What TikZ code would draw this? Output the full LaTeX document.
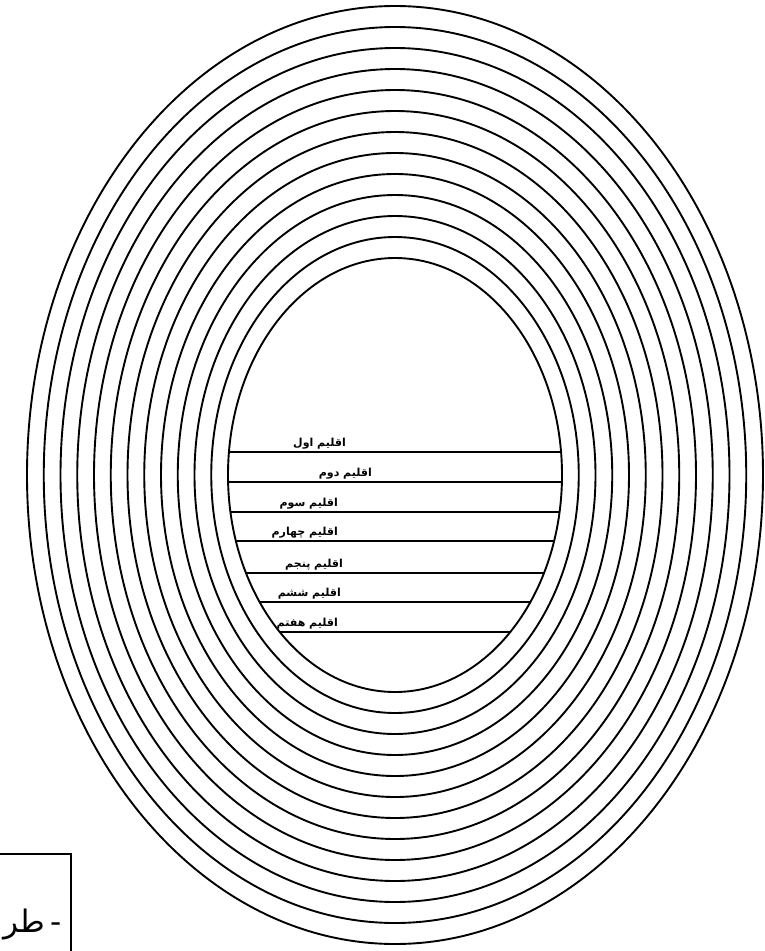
\documentclass[tikz,border=0pt]{standalone}
\usepackage{fontspec}
\newfontfamily\arabicfont[Script=Arabic]{DejaVu Sans}
\TeXXeTstate=1
\tikzset{
    ringline/.style={
        draw=black,
        line width=1.9pt
    },
    chordline/.style={
        draw=black,
        line width=2.1pt
    },
    climatelabel/.style={
        inner sep=0pt,
        anchor=south east,
        font=\arabicfont\bfseries\fontsize{11}{12}\selectfont
    },
    framebox/.style={
        draw=black,
        line width=1.8pt
    },
    framecaption/.style={
        inner sep=0pt,
        anchor=base east,
        font=\arabicfont\fontsize{31}{33}\selectfont
    }
}

\begin{document}
\begin{tikzpicture}[x=1pt, y=-1pt]
    \useasboundingbox (0,0) rectangle (765,951);
    \coordinate (centre) at (395,475);

    % thirteen rings, innermost first
    \foreach \i in {0,...,12}
        \draw[ringline] (centre) ellipse [x radius={167+16.75*\i}, y radius={217+21*\i}];

    % chords inside the innermost ring
    \begin{scope}
        \clip (centre) ellipse [x radius=167, y radius=217];
        \foreach \y in {452,482,512,541,573,602,632}
            \draw[chordline] (200,\y) -- (600,\y);
    \end{scope}

    \node[climatelabel] (clime1) at (346,449) {\beginR اقلیم اول\endR};
    \node[climatelabel] (clime2) at (372,479) {\beginR اقلیم دوم\endR};
    \node[climatelabel] (clime3) at (338,509) {\beginR اقلیم سوم\endR};
    \node[climatelabel] (clime4) at (338,538) {\beginR اقلیم چهارم\endR};
    \node[climatelabel] (clime5) at (343,570) {\beginR اقلیم پنجم\endR};
    \node[climatelabel] (clime6) at (341,599) {\beginR اقلیم ششم\endR};
    \node[climatelabel] (clime7) at (338,629) {\beginR اقلیم هفتم\endR};

    % caption frame, bottom left
    \draw[framebox] (0,854) -- (71,854) -- (71,951);
    \node[framecaption] (caption) at (62,932) {\beginR -\hspace{5pt}طر\endR};
\end{tikzpicture}
\end{document}
